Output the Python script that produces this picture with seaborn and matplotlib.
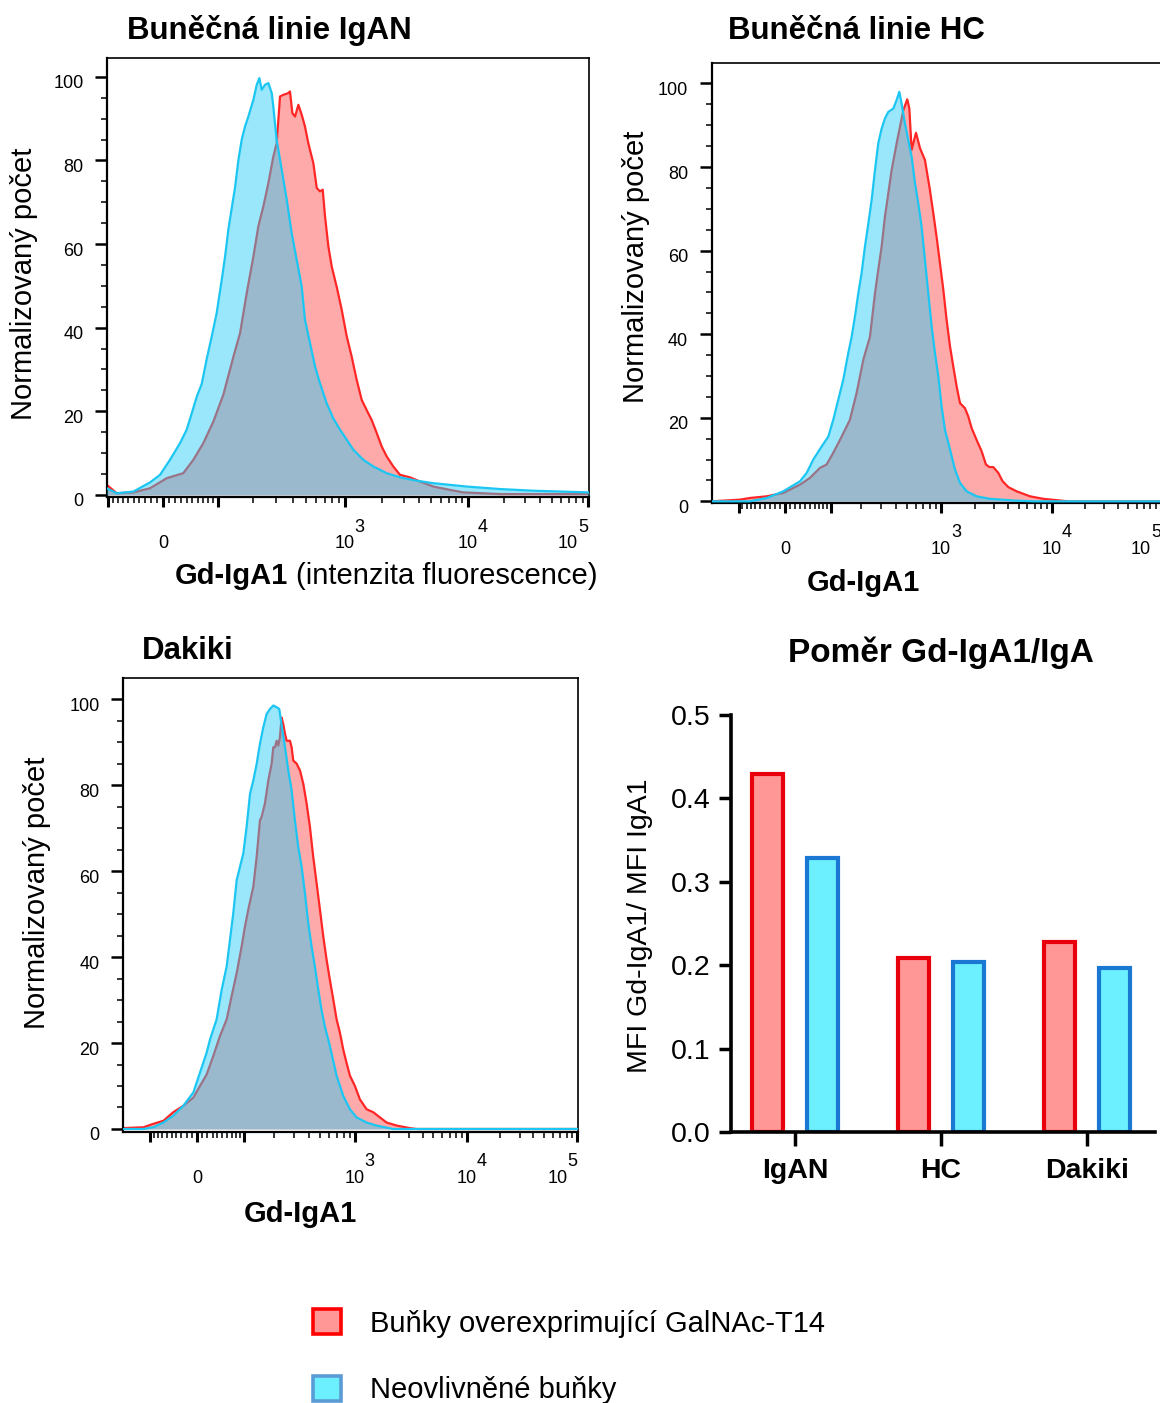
import numpy as np
import pandas as pd
import matplotlib
matplotlib.use("Agg")
import matplotlib.pyplot as plt
import matplotlib.transforms as mtransforms
from matplotlib.patches import Patch
import seaborn as sns

# ---------------- data ----------------
# histogram x = logicle display position (decades from zero), y = normalised count
igan_t14_x = [-0.469, -0.386, -0.247, -0.108, 0.031, 0.169, 0.253, 0.336, 0.419, 0.503, 0.586, 0.642,
              0.697, 0.753, 0.794, 0.836, 0.878, 0.919, 0.947, 0.975, 1.003, 1.044, 1.058, 1.078, 1.1,
              1.128, 1.156, 1.183, 1.211, 1.253, 1.281, 1.308, 1.331, 1.35, 1.378, 1.406, 1.447, 1.489,
              1.531, 1.572, 1.614, 1.656, 1.697, 1.739, 1.781, 1.822, 1.864, 1.919, 1.975, 2.058, 2.142,
              2.253, 2.392, 2.503, 2.808, 3.55]
igan_t14_y = [2.4, 0.4, 0.6, 1.6, 4.0, 5.2, 8.4, 12.4, 17.5, 24.0, 33.0, 38.7, 48.2, 57.0, 64.2, 69.0,
              74.6, 80.9, 84.1, 95.3, 95.7, 96.1, 96.5, 91.3, 90.5, 93.3, 90.9, 88.1, 84.1, 79.3, 73.4,
              72.6, 73.0, 66.6, 59.4, 54.6, 49.8, 44.3, 37.9, 33.1, 27.5, 22.7, 20.3, 17.9, 14.8, 11.6,
              9.2, 6.8, 4.8, 4.2, 3.2, 2.0, 1.2, 0.6, 0.2, 0.2]
igan_ctrl_x = [-0.469, -0.386, -0.247, -0.108, -0.025, 0.058, 0.142, 0.197, 0.239, 0.281, 0.322, 0.364,
               0.406, 0.447, 0.489, 0.517, 0.544, 0.572, 0.6, 0.628, 0.656, 0.683, 0.711, 0.753,
               0.781, 0.803, 0.822, 0.85, 0.878, 0.906, 0.919, 0.947, 0.989, 1.031, 1.072, 1.114, 1.156,
               1.183, 1.225, 1.267, 1.308, 1.364, 1.419, 1.475, 1.531, 1.586, 1.669, 1.753, 1.864, 1.975,
               2.114, 2.253, 2.531, 2.808, 3.086, 3.55]
igan_ctrl_y = [1.6, 0.4, 0.8, 3.0, 4.8, 8.4, 12.4, 15.6, 19.5, 23.5, 26.5, 32.5, 37.9, 43.5, 51.4, 57.0,
               63.4, 68.5, 73.5, 80.1, 85.0, 88.1, 90.5, 94.5, 98.1, 99.7, 96.9, 98.1, 98.5, 96.1,
               92.9, 84.9, 77.8, 70.6, 62.6, 56.2, 49.8, 41.9, 36.3, 30.7, 26.7, 21.9, 18.3, 15.6, 13.2,
               10.8, 8.4, 6.8, 5.2, 4.2, 3.4, 2.8, 2.0, 1.4, 1.0, 0.6]

hc_t14_x = [-0.673, -0.413, -0.321, -0.168, -0.015, 0.076, 0.138, 0.229, 0.321, 0.382, 0.443, 0.505,
            0.596, 0.657, 0.719, 0.78, 0.826, 0.856, 0.887, 0.917, 0.948, 0.979, 1.024, 1.055, 1.086,
            1.122, 1.141, 1.162, 1.202, 1.239, 1.284, 1.33, 1.361, 1.391, 1.422, 1.453, 1.483, 1.514,
            1.544, 1.575, 1.606, 1.651, 1.682, 1.713, 1.758, 1.804, 1.844, 1.875, 1.911, 1.957, 1.997,
            2.049, 2.125, 2.248, 2.37, 2.523, 2.6, 3.46]
hc_t14_y = [0, 0.4, 0.8, 1.2, 2.0, 3.2, 4.0, 5.6, 8.0, 8.8, 11.6, 14.7, 19.5, 25.9, 33.9, 39.4, 49.8,
            55.4, 61.0, 68.1, 73.7, 79.3, 85.6, 89.6, 93.6, 96.2, 94.0, 84.1, 88.2, 84.5, 81.7, 74.5,
            68.9, 63.3, 57.0, 50.6, 43.4, 37.1, 32.3, 27.5, 23.5, 22.3, 20.3, 17.5, 14.7, 12.0, 8.8,
            8.2, 8.2, 6.8, 4.8, 3.4, 2.4, 1.2, 0.6, 0.2, 0, 0]
hc_ctrl_x = [-0.673, -0.413, -0.321, -0.168, -0.015, 0.138, 0.199, 0.26, 0.336, 0.398, 0.443, 0.489,
             0.535, 0.581, 0.612, 0.642, 0.673, 0.703, 0.734, 0.765, 0.795, 0.826, 0.856, 0.887, 0.917,
             0.948, 0.994, 1.024, 1.049, 1.07, 1.101, 1.131, 1.162, 1.193, 1.223, 1.254, 1.284, 1.315,
             1.346, 1.376, 1.407, 1.437, 1.468, 1.514, 1.56, 1.606, 1.667, 1.758, 1.881, 2.095, 2.278, 3.46]
hc_ctrl_y = [0, 0, 0, 0.8, 2.4, 4.8, 6.8, 10.0, 13.1, 15.5, 19.5, 24.3, 29.1, 35.5, 39.4, 44.2, 49.8,
             54.6, 61.0, 66.5, 72.1, 79.3, 85.7, 89.2, 91.6, 93.2, 94.0, 96.0, 98.0, 95.2, 90.4, 86.5,
             82.5, 76.1, 71.3, 65.7, 57.8, 49.8, 41.8, 35.5, 29.9, 22.7, 17.1, 12.4, 7.6, 4.4, 2.4, 1.2,
             0.6, 0.2, 0, 0]

dakiki_t14_x = [-0.671, -0.486, -0.396, -0.305, -0.215, -0.124, -0.033, 0.027, 0.088, 0.148, 0.208,
                0.269, 0.314, 0.36, 0.405, 0.435, 0.465, 0.511, 0.541, 0.571, 0.586, 0.616, 0.647, 0.677,
                0.692, 0.707, 0.722, 0.737, 0.752, 0.767, 0.782, 0.798, 0.813, 0.843, 0.858, 0.873, 0.903,
                0.934, 0.964, 0.994, 1.024, 1.054, 1.085, 1.115, 1.145, 1.175, 1.205, 1.236, 1.266, 1.296,
                1.326, 1.356, 1.387, 1.432, 1.477, 1.538, 1.598, 1.659, 1.719, 1.81, 1.93, 1.991, 3.455]
dakiki_t14_y = [0.2, 0.4, 1.2, 1.9, 3.9, 5.4, 7.3, 10.0, 12.7, 17.0, 21.6, 25.5, 30.9, 36.3, 42.5, 47.1,
                51.0, 56.4, 63.3, 71.8, 72.6, 75.7, 81.1, 85.0, 88.8, 88.8, 90.3, 89.2, 91.1, 95.7, 94.2,
                91.9, 90.3, 90.3, 88.8, 85.7, 85.0, 83.4, 80.3, 75.7, 70.3, 63.3, 57.1, 51.0, 44.8, 39.4,
                34.7, 30.1, 25.5, 22.4, 18.5, 15.4, 12.4, 10.0, 6.9, 4.6, 3.9, 2.7, 1.5, 0.8, 0.2, 0, 0]
dakiki_ctrl_x = [-0.671, -0.486, -0.396, -0.305, -0.215, -0.124, -0.033, 0.027, 0.088, 0.118, 0.178,
                 0.224, 0.269, 0.299, 0.329, 0.36, 0.39, 0.42, 0.45, 0.481, 0.511, 0.541, 0.571, 0.601,
                 0.631, 0.662, 0.692, 0.722, 0.746, 0.767, 0.798, 0.828, 0.858, 0.888, 0.918, 0.949, 0.979,
                 1.009, 1.039, 1.069, 1.1, 1.13, 1.16, 1.205, 1.266, 1.326, 1.387, 1.447, 1.538, 1.628,
                 1.779, 3.455]
dakiki_ctrl_y = [0, 0, 0.4, 1.5, 3.1, 5.4, 8.5, 13.1, 17.8, 20.8, 25.5, 32.4, 37.8, 44.0, 50.2, 57.9,
                 61.0, 64.1, 70.3, 78.0, 81.1, 84.9, 89.6, 93.4, 96.5, 97.7, 98.5, 98.1, 97.7, 94.0, 88.8,
                 83.4, 78.8, 71.8, 65.6, 61.0, 54.8, 47.9, 42.5, 37.8, 32.4, 27.6, 23.8, 19.3, 12.4, 7.7,
                 4.6, 2.7, 1.5, 0.8, 0, 0]

groups = ["IgAN", "HC", "Dakiki"]
ratio_t14 = [0.429, 0.209, 0.228]
ratio_ctrl = [0.329, 0.204, 0.197]
series_labels = ["Buňky overexprimující GalNAc-T14", "Neovlivněné buňky"]

hist_titles = ["Buněčná linie IgAN", "Buněčná linie HC", "Dakiki"]
y_label_hist = "Normalizovaný počet"
bar_title = "Poměr Gd-IgA1/IgA"
bar_ylabel = "MFI Gd-IgA1/ MFI IgA1"

x_major_values = [-100, 0, 100, 1000, 10000, 100000]
x_major_labels = ["", "0", "", "10", "10", "10"]
x_major_exponents = ["", "", "", "3", "4", "5"]
x_minor_values = ([-90, -80, -70, -60, -50, -40, -30, -20, -10, 10, 20, 30, 40, 50, 60, 70, 80, 90]
                  + [200, 300, 400, 500, 600, 700, 800, 900]
                  + [2000, 3000, 4000, 5000, 6000, 7000, 8000, 9000]
                  + [20000, 30000, 40000, 50000, 60000, 70000, 80000, 90000])

# ---------------- style ----------------
sns.set_style("ticks")
plt.rcParams["font.family"] = ["Liberation Sans", "DejaVu Sans"]
plt.rcParams.update({"text.color": "black", "axes.labelcolor": "black", "xtick.color": "black",
                     "ytick.color": "black", "axes.edgecolor": "black"})

RED_LINE = "#FF2626"
RED_FILL = "#FFAAAA"
CYAN_LINE = "#1CC6F2"
CYAN_FILL = (42 / 255, 202 / 255, 245 / 255)
BAR_RED_FILL = "#FF9797"
BAR_RED_EDGE = "#E8000C"
BAR_CYAN_FILL = "#6CF0FF"
BAR_CYAN_EDGE = "#1A78D2"

W, H = 1160, 1403
PX = 0.72  # points per pixel at dpi 100
fig = plt.figure(figsize=(W / 100, H / 100), dpi=100)
fig.patch.set_facecolor("white")


def fbox(left, top, right, bottom):
    return [left / W, 1 - bottom / H, (right - left) / W, (bottom - top) / H]


def logicle_inverse(u, k, p):
    a = np.abs(u)
    return np.sign(u) * k * (10 ** a - p ** 2 * 10 ** (-a / p) + p ** 2 - 1)


def to_display(values, k, p):
    grid = np.linspace(-1.5, 4.5, 12001)
    return np.interp(values, logicle_inverse(grid, k, p), grid)


def shift(dx_px, dy_px):
    return mtransforms.ScaledTranslation(dx_px / 100, dy_px / 100, fig.dpi_scale_trans)


TICK_FS = 13


def histogram_panel(box, xlim, ylim, k, p, t14x, t14y, ctx, cty):
    ax = fig.add_axes(box)
    ax.set_facecolor("white")
    ax.fill_between(t14x, t14y, 0, color=RED_FILL, lw=0, zorder=1)
    sns.lineplot(x=t14x, y=t14y, color=RED_LINE, lw=1.6, ax=ax, zorder=2, errorbar=None)
    ax.fill_between(ctx, cty, 0, color=CYAN_FILL, alpha=0.47, lw=0, zorder=3)
    sns.lineplot(x=ctx, y=cty, color=CYAN_LINE, lw=1.6, ax=ax, zorder=4, errorbar=None)
    ax.set_xlim(*xlim)
    ax.set_ylim(*ylim)
    major_pos = to_display(x_major_values, k, p)
    ax.set_xticks(major_pos)
    ax.set_xticklabels(x_major_labels)
    ax.set_xticks(to_display(x_minor_values, k, p), minor=True)
    ax.set_yticks([0, 20, 40, 60, 80, 100])
    ax.set_yticks(np.arange(0, 105, 5), minor=True)
    ax.tick_params(axis="y", which="major", length=9, width=1.8, direction="out", labelsize=TICK_FS, pad=8)
    ax.tick_params(axis="y", which="minor", length=4.5, width=1.1, direction="out")
    ax.tick_params(axis="x", which="major", length=7.5, width=2.2, direction="out", labelsize=TICK_FS, pad=20)
    ax.tick_params(axis="x", which="minor", length=4.5, width=1.1, direction="out")
    xl = ax.get_xticklabels()
    n = len(xl)
    for i, (pos, lab, ex) in enumerate(zip(major_pos, xl, x_major_exponents)):
        base_dx = -20 if i == n - 1 else 0
        if base_dx:
            lab.set_transform(lab.get_transform() + shift(base_dx, 0))
        if ex:
            ax.annotate(ex, xy=(pos, 0), xycoords=("data", "axes fraction"),
                        xytext=((base_dx + 10) * PX, -30 * PX), textcoords="offset points",
                        ha="left", va="center", fontsize=TICK_FS, annotation_clip=False)
    for lab in ax.get_yticklabels():
        lab.set_transform(lab.get_transform() + shift(0, -5))
    for s in ax.spines.values():
        s.set_visible(True)
        s.set_linewidth(1.2)
        s.set_color("black")
    ax.spines["left"].set_linewidth(1.6)
    ax.spines["bottom"].set_linewidth(1.6)
    ax.set_xlabel("")
    ax.set_ylabel("")
    return ax


K1, P1 = 28.7, 2.0
K2, P2 = 35.5, 1.58

histogram_panel(fbox(107, 58, 589, 497), (-0.467, 3.55), (-0.5, 104.5), K1, P1,
                igan_t14_x, igan_t14_y, igan_ctrl_x, igan_ctrl_y)
histogram_panel(fbox(711.7, 63, 1163, 503), (-0.672, 3.468), (-0.4, 104.9), K2, P2,
                hc_t14_x, hc_t14_y, hc_ctrl_x, hc_ctrl_y)
histogram_panel(fbox(123, 678, 578, 1132), (-0.671, 3.455), (-0.7, 104.9), K2, P2,
                dakiki_t14_x, dakiki_t14_y, dakiki_ctrl_x, dakiki_ctrl_y)

# ---------------- bar chart ----------------
axb = fig.add_axes(fbox(731, 715, 1155, 1132))
df = pd.DataFrame({
    "group": groups + groups,
    "ratio": ratio_t14 + ratio_ctrl,
    "series": [series_labels[0]] * len(groups) + [series_labels[1]] * len(groups),
})
sns.barplot(data=df, x="group", y="ratio", hue="series", hue_order=series_labels,
            palette=[BAR_RED_FILL, BAR_CYAN_FILL], saturation=1, width=0.75, gap=0.44,
            linewidth=3, edgecolor="black", legend=False, ax=axb, errorbar=None)
for cont, ec in zip(axb.containers, [BAR_RED_EDGE, BAR_CYAN_EDGE]):
    for bar in cont:
        bar.set_edgecolor(ec)
        bar.set_linewidth(3)
axb.set_xlim(-0.438, 2.466)
axb.set_ylim(0, 0.5)
axb.set_yticks([0.0, 0.1, 0.2, 0.3, 0.4, 0.5])
axb.set_yticklabels(["0.0", "0.1", "0.2", "0.3", "0.4", "0.5"])
axb.tick_params(axis="y", length=9, width=2.5, labelsize=20.5, pad=6, direction="out")
axb.tick_params(axis="x", length=10, width=2.5, labelsize=20.5, pad=9, direction="out")
for lab in axb.get_xticklabels():
    lab.set_fontweight("bold")
for side in ["top", "right"]:
    axb.spines[side].set_visible(False)
for side in ["left", "bottom"]:
    axb.spines[side].set_linewidth(2.6)
    axb.spines[side].set_color("black")
axb.set_xlabel("")
axb.set_ylabel("")
axb.set_facecolor("white")

# ---------------- texts ----------------
title_kw = dict(fontsize=22.5, fontweight="bold", ha="center", va="center")
fig.text(269 / W, 1 - 30 / H, hist_titles[0], **title_kw)
fig.text(856 / W, 1 - 31 / H, hist_titles[1], **title_kw)
fig.text(188 / W, 1 - 651 / H, hist_titles[2], **title_kw)
fig.text(941 / W, 1 - 653 / H, bar_title, fontsize=24, fontweight="bold", ha="center", va="center")

lab_kw = dict(fontsize=21, rotation=90, ha="center", va="center")
fig.text(24 / W, 1 - 284 / H, y_label_hist, **lab_kw)
fig.text(636 / W, 1 - 267 / H, y_label_hist, **lab_kw)
fig.text(37 / W, 1 - 893 / H, y_label_hist, **lab_kw)
fig.text(640 / W, 1 - 926 / H, bar_ylabel, fontsize=20.5, rotation=90, ha="center", va="center")

fig.text(175 / W, 1 - 576 / H, "Gd-IgA1", fontsize=21, fontweight="bold", ha="left", va="center")
fig.text(598 / W, 1 - 576 / H, "(intenzita fluorescence)", fontsize=21, ha="right", va="center")
fig.text(863 / W, 1 - 583 / H, "Gd-IgA1", fontsize=21, fontweight="bold", ha="center", va="center")
fig.text(300 / W, 1 - 1214 / H, "Gd-IgA1", fontsize=21, fontweight="bold", ha="center", va="center")

# ---------------- legend ----------------
handles = [Patch(facecolor=BAR_RED_FILL, edgecolor="#FF0000", linewidth=2.6),
           Patch(facecolor=BAR_CYAN_FILL, edgecolor="#5B9BD5", linewidth=2.6)]
fig.legend(handles, series_labels, loc="upper left", bbox_to_anchor=(313 / W, 1 - 1309 / H),
           frameon=False, fontsize=21, handlelength=0.95, handleheight=0.95,
           handletextpad=1.0, labelspacing=1.3, borderpad=0, borderaxespad=0)

fig.savefig("out.png", dpi=100, facecolor="white")
